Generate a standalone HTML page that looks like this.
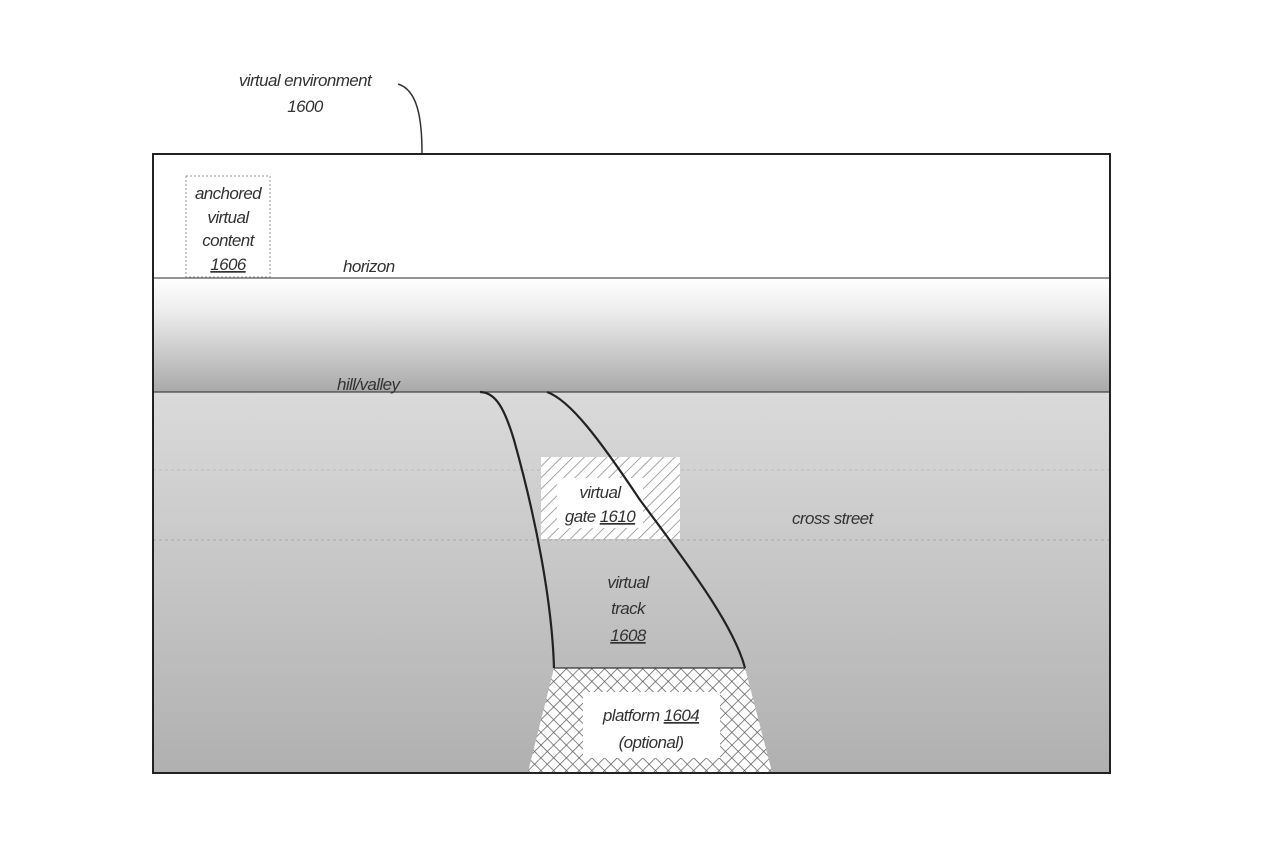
<!DOCTYPE html>
<html><head><style>
html,body{margin:0;padding:0;background:#fff;}
svg{display:block;}
text{font-family:"Liberation Sans",sans-serif;font-style:italic;fill:#333;font-size:17px;letter-spacing:-0.6px;}
</style></head><body>
<svg width="1280" height="852" viewBox="0 0 1280 852">
<defs>
<linearGradient id="g1" x1="0" y1="0" x2="0" y2="1">
<stop offset="0" stop-color="#ffffff"/><stop offset="0.3" stop-color="#ececec"/><stop offset="1" stop-color="#a9a9a9"/>
</linearGradient>
<linearGradient id="g2" x1="0" y1="0" x2="0" y2="1">
<stop offset="0" stop-color="#dadada"/><stop offset="1" stop-color="#b0b0b0"/>
</linearGradient>
<pattern id="diag" width="8" height="8" patternUnits="userSpaceOnUse" patternTransform="rotate(45)">
<rect width="8" height="8" fill="#fff"/><line x1="0" y1="0" x2="0" y2="8" stroke="#888" stroke-width="1.5"/>
</pattern>
<pattern id="cross" width="9" height="9" patternUnits="userSpaceOnUse" patternTransform="rotate(45)">
<rect width="9" height="9" fill="#fff"/><line x1="0" y1="0" x2="0" y2="9" stroke="#555" stroke-width="1.4"/><line x1="0" y1="0" x2="9" y2="0" stroke="#555" stroke-width="1.4"/>
</pattern>
</defs>
<text x="305" y="86" text-anchor="middle">virtual environment</text>
<text x="305" y="112" text-anchor="middle">1600</text>
<path d="M398,84 C418,90 422,120 422,153" fill="none" stroke="#333" stroke-width="1.5"/>
<rect x="153" y="154" width="957" height="124" fill="#fff"/>
<rect x="153" y="278" width="957" height="114" fill="url(#g1)"/>
<rect x="153" y="392" width="957" height="381" fill="url(#g2)"/>
<line x1="153" y1="470" x2="1110" y2="470" stroke="#bbb" stroke-dasharray="3,3"/>
<line x1="153" y1="540" x2="1110" y2="540" stroke="#aaa" stroke-dasharray="3,3"/>
<line x1="153" y1="278" x2="1110" y2="278" stroke="#555" stroke-width="1.2"/>
<line x1="153" y1="392" x2="1110" y2="392" stroke="#444" stroke-width="1.2"/>
<rect x="186" y="176" width="84" height="101" fill="#fff" stroke="#999" stroke-dasharray="2,2"/>
<text x="228" y="199" text-anchor="middle" font-size="15">anchored</text>
<text x="228" y="223" text-anchor="middle" font-size="15">virtual</text>
<text x="228" y="246" text-anchor="middle" font-size="15">content</text>
<text x="228" y="270" text-anchor="middle" font-size="15" text-decoration="underline">1606</text>
<text x="343" y="272">horizon</text>
<text x="337" y="390">hill/valley</text>
<rect x="541" y="457" width="139" height="82" fill="url(#diag)"/>
<rect x="557" y="478" width="86" height="50" fill="#fff"/>
<text x="600" y="498" text-anchor="middle" font-size="15">virtual</text>
<text x="600" y="522" text-anchor="middle" font-size="15">gate <tspan text-decoration="underline">1610</tspan></text>
<path d="M554,668 L745,668 L772,772 L528,772 Z" fill="url(#cross)"/>
<rect x="583" y="692" width="137" height="66" fill="#fff"/>
<text x="651" y="721" text-anchor="middle">platform <tspan text-decoration="underline">1604</tspan></text>
<text x="651" y="748" text-anchor="middle">(optional)</text>
<path d="M480,392 C496,392 505,410 514,440 C535,515 552,600 554,668" fill="none" stroke="#222" stroke-width="2.2"/>
<path d="M547,392 C570,400 600,440 640,500 C700,580 735,630 745,668" fill="none" stroke="#222" stroke-width="2.2"/>
<line x1="554" y1="668" x2="745" y2="668" stroke="#333" stroke-width="1.2"/>
<text x="628" y="588" text-anchor="middle">virtual</text>
<text x="628" y="614" text-anchor="middle">track</text>
<text x="628" y="641" text-anchor="middle" text-decoration="underline">1608</text>
<text x="792" y="524">cross street</text>
<rect x="153" y="154" width="957" height="619" fill="none" stroke="#222" stroke-width="2"/>
</svg>
</body></html>
